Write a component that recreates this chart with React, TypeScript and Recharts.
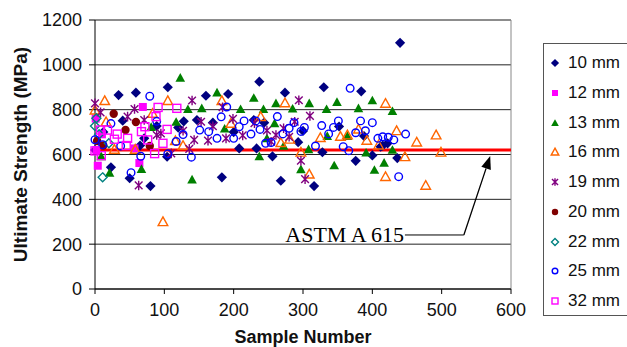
import React from 'react';
import {
  ScatterChart,
  Scatter,
  XAxis,
  YAxis,
  CartesianGrid,
  ReferenceLine,
} from 'recharts';

// [sample number, ultimate strength MPa]
const mm10 = [
  [0, 620], [12, 700], [23, 543], [34, 865], [40, 751], [50, 494], [59, 876], [65, 640],
  [71, 672], [80, 459], [89, 727], [104, 590], [105, 900], [120, 720], [128, 748], [147, 754],
  [160, 862], [170, 742], [183, 498], [192, 870], [200, 700], [208, 627], [229, 754], [233, 627],
  [237, 925], [244, 742], [256, 592], [268, 483], [274, 876], [293, 655], [300, 705], [316, 459],
  [328, 610], [330, 900], [352, 725], [376, 572], [384, 882], [388, 682], [400, 596], [412, 635],
  [415, 640], [422, 650], [436, 584], [440, 1098],
];
const mm12 = [[1, 760], [2, 620], [4, 550], [10, 690], [57, 627], [64, 562], [69, 812]];
const mm13 = [
  [9, 592], [21, 518], [67, 535], [81, 722], [117, 745], [123, 942], [134, 802], [140, 488],
  [154, 806], [176, 876], [187, 715], [210, 802], [229, 852], [237, 592], [243, 802], [248, 672],
  [259, 739], [261, 828], [272, 638], [285, 804], [297, 534], [309, 828], [308, 623], [334, 802],
  [335, 682], [345, 551], [349, 834], [364, 682], [380, 806], [391, 608], [400, 841], [403, 531],
  [417, 563], [429, 793], [429, 620],
];
const mm16 = [
  [0, 798], [14, 840], [16, 746], [28, 623], [58, 623], [83, 783], [98, 300], [105, 840],
  [116, 661], [127, 640], [183, 840], [196, 739], [239, 769], [268, 653], [274, 830], [281, 668],
  [297, 610], [309, 512], [325, 675], [354, 681], [364, 687], [380, 713], [392, 663], [409, 642],
  [419, 828], [419, 501], [435, 706], [447, 590], [464, 655], [477, 462], [492, 687], [499, 610],
];
const mm19 = [
  [0, 828], [8, 788], [47, 769], [57, 803], [63, 462], [71, 754], [89, 687], [95, 694],
  [110, 605], [127, 706], [136, 625], [140, 841], [143, 665], [153, 746], [163, 662], [170, 726],
  [184, 811], [189, 672], [199, 759], [213, 685], [230, 740], [248, 707], [254, 657], [261, 687],
  [272, 717], [280, 679], [288, 746], [294, 842], [297, 572], [303, 490], [310, 772],
];
const mm20 = [[3, 660], [12, 640], [27, 782], [44, 709], [59, 745], [79, 638]];
const mm22 = [[0, 727], [2, 762], [6, 690], [11, 498], [20, 650]];
const mm25 = [
  [0, 666], [11, 644], [23, 738], [37, 638], [52, 519], [66, 592], [79, 860], [89, 748],
  [105, 603], [117, 658], [127, 689], [139, 588], [151, 709], [164, 702], [176, 672], [182, 768],
  [190, 812], [200, 672], [208, 724], [215, 750], [225, 691], [232, 750], [238, 712], [246, 650],
  [254, 653], [263, 769], [271, 692], [280, 717], [287, 742], [297, 703], [302, 721], [318, 638],
  [327, 729], [337, 692], [344, 721], [351, 750], [358, 635], [366, 617], [368, 895], [376, 697],
  [383, 750], [390, 706], [400, 742], [408, 672], [415, 679], [423, 677], [431, 665], [438, 501],
  [448, 691],
];
const mm32 = [
  [0, 616], [9, 595], [8, 709], [18, 709], [28, 668], [32, 691], [45, 640], [47, 672],
  [67, 702], [72, 724], [76, 665], [86, 604], [88, 769], [91, 810], [98, 650], [104, 712],
  [118, 806],
];

const xTicks = [0, 100, 200, 300, 400, 500, 600];
const yTicks = [0, 200, 400, 600, 800, 1000, 1200];
const astmLimit = 620;
const astmLabel = 'ASTM A 615';
// pointer: text end -> bend -> arrow tip (data coords)
const pointer = [
  { x: 447, y: 241 },
  { x: 532, y: 241 },
  { x: 570, y: 593 },
];

type Kind = 'diamond' | 'square' | 'triangle' | 'asterisk' | 'circle';

const series: { name: string; data: number[][]; kind: Kind; color: string; filled: boolean }[] = [
  { name: '10 mm', data: mm10, kind: 'diamond', color: '#000080', filled: true },
  { name: '12 mm', data: mm12, kind: 'square', color: '#FF00FF', filled: true },
  { name: '13 mm', data: mm13, kind: 'triangle', color: '#008000', filled: true },
  { name: '16 mm', data: mm16, kind: 'triangle', color: '#FF6600', filled: false },
  { name: '19 mm', data: mm19, kind: 'asterisk', color: '#800080', filled: false },
  { name: '20 mm', data: mm20, kind: 'circle', color: '#800000', filled: true },
  { name: '22 mm', data: mm22, kind: 'diamond', color: '#008080', filled: false },
  { name: '25 mm', data: mm25, kind: 'circle', color: '#0000FF', filled: false },
  { name: '32 mm', data: mm32, kind: 'square', color: '#FF00FF', filled: false },
];

function Marker({ kind, color, filled, cx, cy, s = 4.8 }: any) {
  const fill = filled ? color : 'none';
  const sw = filled ? 0 : 1.4;
  if (kind === 'diamond') {
    const h = filled ? s + 0.3 : s - 0.3;
    return (
      <path d={`M${cx},${cy - h}L${cx + h},${cy}L${cx},${cy + h}L${cx - h},${cy}Z`} fill={fill} stroke={color} strokeWidth={sw} />
    );
  }
  if (kind === 'square') {
    const h = s - 0.8;
    return <rect x={cx - h} y={cy - h} width={2 * h} height={2 * h} fill={fill} stroke={color} strokeWidth={sw} />;
  }
  if (kind === 'triangle') {
    return (
      <path d={`M${cx},${cy - s}L${cx + s},${cy + s * 0.8}L${cx - s},${cy + s * 0.8}Z`} fill={fill} stroke={color} strokeWidth={sw} />
    );
  }
  if (kind === 'circle') {
    return <circle cx={cx} cy={cy} r={filled ? s - 0.6 : s - 1} fill={fill} stroke={color} strokeWidth={sw} />;
  }
  const d = s * 0.8;
  return (
    <path
      d={`M${cx},${cy - s}L${cx},${cy + s}M${cx - d},${cy - d}L${cx + d},${cy + d}M${cx - d},${cy + d}L${cx + d},${cy - d}`}
      stroke={color}
      strokeWidth={1.4}
      fill="none"
    />
  );
}

const tickStyle = { fill: '#111', fontSize: 18, fontFamily: 'Liberation Sans, Arial, sans-serif' };

export default function App() {
  return (
    <div style={{ position: 'absolute', left: 0, top: 0, width: 627, height: 347, overflow: 'hidden', background: '#fff' }}>
      <ScatterChart width={627} height={347} margin={{ top: 20, right: 116, bottom: 0, left: 0 }}>
        <CartesianGrid horizontal vertical={false} stroke="#222" />
        <XAxis
          type="number"
          dataKey="x"
          domain={[0, 600]}
          ticks={xTicks}
          height={58}
          stroke="#000"
          tickSize={5}
          tickMargin={9}
          tick={tickStyle}
          label={{
            value: 'Sample Number',
            position: 'insideBottom',
            offset: 4,
            style: { fill: '#111', fontSize: 18, fontWeight: 'bold', fontFamily: 'Liberation Sans, Arial, sans-serif' },
          }}
        />
        <YAxis
          type="number"
          dataKey="y"
          domain={[0, 1200]}
          ticks={yTicks}
          width={95}
          stroke="#000"
          tickSize={6}
          tickMargin={7}
          tick={tickStyle}
          label={{
            value: 'Ultimate Strength (MPa)',
            angle: -90,
            position: 'insideLeft',
            offset: 20,
            style: { textAnchor: 'middle', fill: '#111', fontSize: 19, fontWeight: 'bold', fontFamily: 'Liberation Sans, Arial, sans-serif' },
          }}
        />
        <ReferenceLine y={1200} stroke="#888" />
        <ReferenceLine x={600} stroke="#888" />
        <ReferenceLine y={astmLimit} stroke="#FF0000" strokeWidth={3} />
        {series.map((s) => (
          <Scatter
            key={s.name}
            name={s.name}
            data={s.data.map(([x, y]) => ({ x, y }))}
            isAnimationActive={false}
            shape={(p: any) => <Marker kind={s.kind} color={s.color} filled={s.filled} cx={p.cx} cy={p.cy} />}
          />
        ))}
        <ReferenceLine
          segment={[pointer[0], pointer[1]]}
          stroke="#000"
          shape={(p: any) => (
            <g>
              <line x1={p.x1} y1={p.y1} x2={p.x2} y2={p.y2} stroke="#000" strokeWidth={1} />
              <text
                x={p.x1 - 1}
                y={p.y1}
                textAnchor="end"
                dominantBaseline="central"
                fontSize={22}
                fontFamily="Liberation Serif, Times New Roman, serif"
                fill="#000"
              >
                {astmLabel}
              </text>
            </g>
          )}
        />
        <ReferenceLine
          segment={[pointer[1], pointer[2]]}
          stroke="#000"
          shape={(p: any) => {
            const dx = p.x2 - p.x1;
            const dy = p.y2 - p.y1;
            const len = Math.hypot(dx, dy);
            const ux = dx / len;
            const uy = dy / len;
            const bx = p.x2 - ux * 13;
            const by = p.y2 - uy * 13;
            return (
              <g>
                <line x1={p.x1} y1={p.y1} x2={bx} y2={by} stroke="#000" strokeWidth={1.3} />
                <path
                  d={`M${p.x2},${p.y2}L${bx - uy * 5},${by + ux * 5}L${bx + uy * 5},${by - ux * 5}Z`}
                  fill="#000"
                />
              </g>
            );
          }}
        />
      </ScatterChart>
      <div
        style={{
          position: 'absolute',
          left: 543,
          top: 43,
          width: 100,
          height: 271,
          border: '1px solid #555',
          fontFamily: 'Liberation Sans, Arial, sans-serif',
          fontSize: 17,
          color: '#111',
        }}
      >
        {series.map((s, i) => (
          <div
            key={s.name}
            style={{ position: 'absolute', left: 0, top: 19 + i * 29.75 - 10, height: 20, display: 'flex', alignItems: 'center' }}
          >
            <svg width={22} height={20}>
              <Marker kind={s.kind} color={s.color} filled={s.filled} cx={11} cy={10} s={3.8} />
            </svg>
            <span style={{ marginLeft: 2, whiteSpace: 'nowrap' }}>{s.name}</span>
          </div>
        ))}
      </div>
    </div>
  );
}
